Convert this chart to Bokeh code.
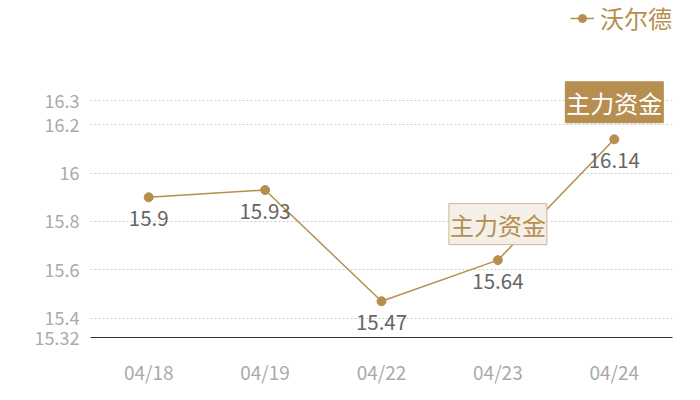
from bokeh.plotting import figure
from bokeh.models import FixedTicker, Legend, LegendItem, Range1d, ColumnDataSource
from bokeh.embed import file_html
from bokeh.resources import INLINE
from bokeh.core.properties import value

dates = ["04/18", "04/19", "04/22", "04/23", "04/24"]
prices = [15.9, 15.93, 15.47, 15.64, 16.14]
price_labels = ["15.9", "15.93", "15.47", "15.64", "16.14"]
y_ticks = [15.32, 15.4, 15.6, 15.8, 16.0, 16.2, 16.3]
series_name = "沃尔德"
flag_text = "主力资金"
flag1_date, flag1_value = "04/23", 15.64
flag2_date, flag2_value = "04/24", 16.14

GOLD = "#b68f50"
FONT = "Noto Sans CJK SC"

p = figure(x_range=dates, y_range=Range1d(15.32, 16.714), width=700, height=400,
           output_backend="svg", toolbar_location=None,
           min_border_left=90, min_border_right=28, min_border_top=0, min_border_bottom=63)
p.outline_line_color = None
p.background_fill_color = "white"

p.xgrid.grid_line_color = None
p.ygrid.grid_line_color = "#cccccc"
p.ygrid.grid_line_dash = "2 2"
p.ygrid.ticker = FixedTicker(ticks=y_ticks[1:])

p.yaxis.ticker = FixedTicker(ticks=y_ticks)
p.yaxis.major_label_overrides = {t: f"{t:g}" for t in y_ticks}
p.yaxis.axis_line_color = None
p.yaxis.major_tick_line_color = None
p.yaxis.minor_tick_line_color = None
p.yaxis.major_label_text_color = "#aaaaaa"
p.yaxis.major_label_text_font = FONT
p.yaxis.major_label_text_font_size = "18px"
p.yaxis.major_label_standoff = 5

p.xaxis.axis_line_color = "#333333"
p.xaxis.axis_line_width = 1
p.xaxis.major_tick_line_color = None
p.xaxis.minor_tick_line_color = None
p.xaxis.major_label_text_color = "#aaaaaa"
p.xaxis.major_label_text_font = FONT
p.xaxis.major_label_text_font_size = "19px"
p.xaxis.major_label_standoff = 14

src = ColumnDataSource(dict(x=dates, y=prices, lab=price_labels))
ln = p.line("x", "y", source=src, line_color=GOLD, line_width=1.5)
sc = p.scatter("x", "y", source=src, size=9, fill_color=GOLD, line_color=GOLD)
p.text("x", "y", text="lab", source=src, text_align="center", text_baseline="middle",
       y_offset=21, text_font=value(FONT), text_font_size="20.5px", text_color="#666666")

p.text(x=[flag1_date], y=[flag1_value], text=[flag_text], text_align="center",
       text_baseline="middle", y_offset=-36, text_font=value(FONT), text_font_size="24px",
       text_color=GOLD, background_fill_color="#f4efe8", border_line_color="#d2b78c",
       border_line_width=1, padding=(1, 3))
p.text(x=[flag2_date], y=[flag2_value], text=[flag_text], text_align="center",
       text_baseline="middle", y_offset=-37, text_font=value(FONT), text_font_size="24px",
       text_color="white", background_fill_color=GOLD, border_line_color=GOLD,
       border_line_width=1, padding=(1, 3))

legend = Legend(items=[LegendItem(label=series_name, renderers=[ln, sc])],
                location="top_right", orientation="horizontal",
                label_text_font=FONT, label_text_font_size="24px", label_text_color=GOLD,
                border_line_color=None, background_fill_alpha=0,
                glyph_width=24, glyph_height=20, label_standoff=6, padding=4, margin=0)
p.add_layout(legend, "center")

open("out.html", "w").write(file_html(p, INLINE))
